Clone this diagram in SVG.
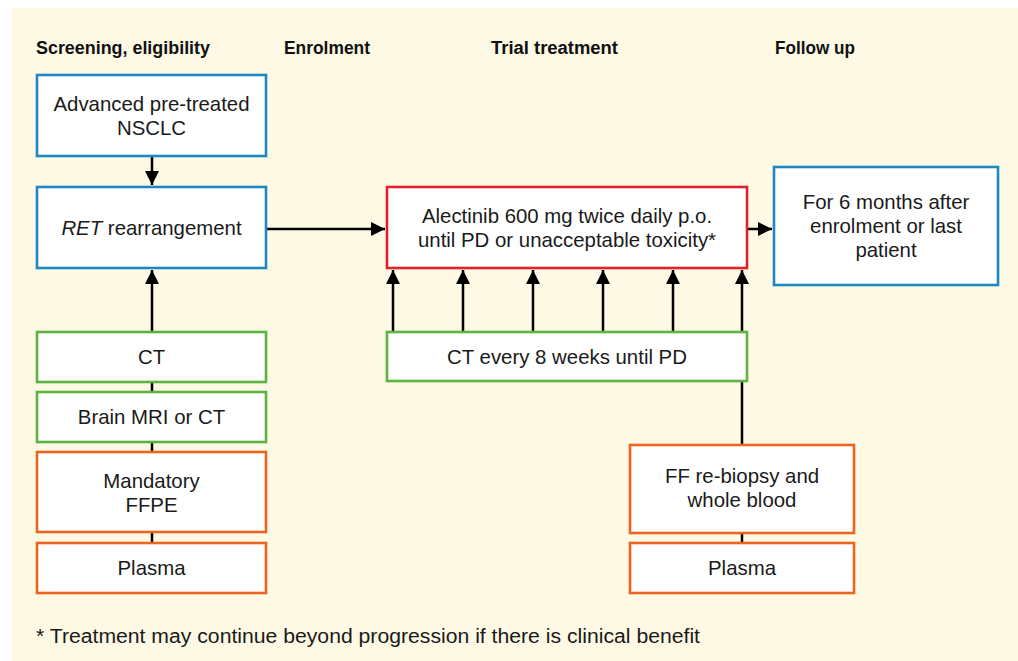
<svg xmlns="http://www.w3.org/2000/svg" width="1018" height="661" viewBox="0 0 1018 661">
  <style>
    .box { fill: #ffffff; stroke-width: 2.6; }
    .blue { stroke: #1f88c2; }
    .red { stroke: #e31e2d; }
    .green { stroke: #5cb33f; }
    .orange { stroke: #ec651f; }
    .lbl { font-family: "Liberation Sans", Arial, sans-serif; font-size: 20.4px; fill: #1a1a1a; text-anchor: middle; }
    .head { font-family: "Liberation Sans", Arial, sans-serif; font-weight: bold; font-size: 18px; fill: #111111; }
    .note { font-family: "Liberation Sans", Arial, sans-serif; font-size: 20px; fill: #1a1a1a; }
    .con { stroke: #000000; stroke-width: 2.5; fill: none; }
    .arr { marker-end: url(#head); }
  </style>
  <defs>
    <marker id="head" markerUnits="userSpaceOnUse" markerWidth="14" markerHeight="14" viewBox="0 0 14 14" refX="14" refY="7" orient="auto">
      <path d="M0,0 L14,7 L0,14 Z" fill="#000000"/>
    </marker>
  </defs>

  <!-- panel background -->
  <rect x="12" y="8" width="1006" height="653" fill="#fdf9e4"/>

  <!-- column headings -->
  <text class="head" x="36" y="54" textLength="174" lengthAdjust="spacingAndGlyphs">Screening, eligibility</text>
  <text class="head" x="284" y="54" textLength="86" lengthAdjust="spacingAndGlyphs">Enrolment</text>
  <text class="head" x="491" y="54" textLength="127" lengthAdjust="spacingAndGlyphs">Trial treatment</text>
  <text class="head" x="775" y="54" textLength="80" lengthAdjust="spacingAndGlyphs">Follow up</text>

  <!-- connectors -->
  <g id="connectors">
    <line class="con arr" x1="152" y1="157" x2="152" y2="185"/>
    <line class="con arr" x1="152" y1="331" x2="152" y2="270"/>
    <line class="con" x1="152" y1="382" x2="152" y2="543"/>
    <line class="con arr" x1="267" y1="229" x2="385" y2="229"/>
    <line class="con arr" x1="748" y1="229" x2="772" y2="229"/>
    <line class="con arr" x1="393" y1="331" x2="393" y2="270"/>
    <line class="con arr" x1="463" y1="331" x2="463" y2="270"/>
    <line class="con arr" x1="533" y1="331" x2="533" y2="270"/>
    <line class="con arr" x1="603" y1="331" x2="603" y2="270"/>
    <line class="con arr" x1="673" y1="331" x2="673" y2="270"/>
    <line class="con arr" x1="742" y1="445" x2="742" y2="270"/>
    <line class="con" x1="742" y1="533" x2="742" y2="543"/>
  </g>

  <!-- screening column -->
  <g id="nsclc">
    <rect class="box blue" x="37" y="75" width="229" height="81"/>
    <text class="lbl" x="151.5" y="111">Advanced pre-treated</text>
    <text class="lbl" x="151.5" y="135">NSCLC</text>
  </g>
  <g id="ret">
    <rect class="box blue" x="37" y="187" width="229" height="81"/>
    <text class="lbl" x="151.5" y="235"><tspan font-style="italic">RET</tspan> rearrangement</text>
  </g>
  <g id="ct-baseline">
    <rect class="box green" x="37" y="332" width="229" height="50"/>
    <text class="lbl" x="151.5" y="364">CT</text>
  </g>
  <g id="brain">
    <rect class="box green" x="37" y="392" width="229" height="50"/>
    <text class="lbl" x="151.5" y="424">Brain MRI or CT</text>
  </g>
  <g id="ffpe">
    <rect class="box orange" x="37" y="452" width="229" height="80"/>
    <text class="lbl" x="151.5" y="488">Mandatory</text>
    <text class="lbl" x="151.5" y="512">FFPE</text>
  </g>
  <g id="plasma-baseline">
    <rect class="box orange" x="37" y="543" width="229" height="50"/>
    <text class="lbl" x="151.5" y="575">Plasma</text>
  </g>

  <!-- treatment column -->
  <g id="alectinib">
    <rect class="box red" x="387" y="187" width="360" height="81"/>
    <text class="lbl" x="567" y="223">Alectinib 600 mg twice daily p.o.</text>
    <text class="lbl" x="567" y="247">until PD or unacceptable toxicity*</text>
  </g>
  <g id="ct-followup">
    <rect class="box green" x="387" y="332" width="360" height="49"/>
    <text class="lbl" x="567" y="364">CT every 8 weeks until PD</text>
  </g>
  <g id="rebiopsy">
    <rect class="box orange" x="630" y="445" width="224" height="88"/>
    <text class="lbl" x="742" y="483">FF re-biopsy and</text>
    <text class="lbl" x="742" y="507">whole blood</text>
  </g>
  <g id="plasma-pd">
    <rect class="box orange" x="630" y="543" width="224" height="50"/>
    <text class="lbl" x="742" y="575">Plasma</text>
  </g>

  <!-- follow-up column -->
  <g id="followup">
    <rect class="box blue" x="774" y="167" width="224" height="118"/>
    <text class="lbl" x="886" y="209">For 6 months after</text>
    <text class="lbl" x="886" y="233">enrolment or last</text>
    <text class="lbl" x="886" y="257">patient</text>
  </g>

  <!-- footnote -->
  <text class="note" x="36" y="643" textLength="664" lengthAdjust="spacingAndGlyphs">* Treatment may continue beyond progression if there is clinical benefit</text>
</svg>
